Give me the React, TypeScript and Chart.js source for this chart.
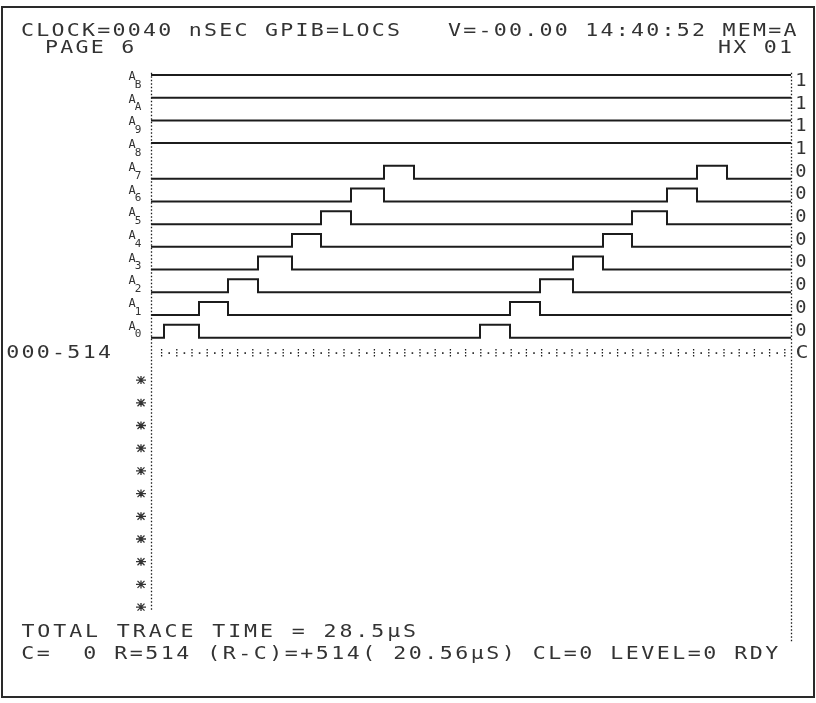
import React, { useEffect, useRef } from "react";
import { Chart, registerables } from "chart.js";

Chart.register(...registerables);

// ---- data ----
const channelNames = ["B", "A", "9", "8", "7", "6", "5", "4", "3", "2", "1", "0"];
const stateLabels = ["1", "1", "1", "1", "0", "0", "0", "0", "0", "0", "0", "0"];
const restLevels = [1, 1, 1, 1, 0, 0, 0, 0, 0, 0, 0, 0];
const pulseRises = [
  [], [], [], [],
  [23.3, 54.6],
  [20.0, 51.6],
  [17.0, 48.1],
  [14.1, 45.2],
  [10.7, 42.2],
  [7.7, 38.9],
  [4.8, 35.9],
  [1.3, 32.9],
];
const pulseFalls = [
  [], [], [], [],
  [26.3, 57.6],
  [23.3, 54.6],
  [20.0, 51.6],
  [17.0, 48.1],
  [14.1, 45.2],
  [10.7, 42.2],
  [7.7, 38.9],
  [4.8, 35.9],
];
const timeStart = 0;
const timeEnd = 64;
const cursorRow = 12.25;
const cursorLabel = "000-514";
const cursorMark = "C";
const emptyRows = [13.44, 14.44, 15.44, 16.44, 17.44, 18.44, 19.44, 20.44, 21.44, 22.44, 23.44];
const headerLine = "CLOCK=0040 nSEC GPIB=LOCS   V=-00.00 14:40:52 MEM=A";
const pageLabel = "PAGE 6";
const formatLabel = "HX 01";
const totalLine = "TOTAL TRACE TIME = 28.5µS";
const statusLine = "C=  0 R=514 (R-C)=+514( 20.56µS) CL=0 LEVEL=0 RDY";

const LOW_OFFSET = 0.57;
const INK = "#1c1c1c";
const TEXT_INK = "#333333";
const MONO = "'DejaVu Sans Mono', 'Liberation Mono', monospace";

function rowPoints(i: number) {
  const hiY = i;
  const loY = i + LOW_OFFSET;
  const rest = restLevels[i] ? hiY : loY;
  const pts: { x: number; y: number }[] = [{ x: timeStart, y: rest }];
  pulseRises[i].forEach((r, k) => {
    const f = pulseFalls[i][k];
    pts.push({ x: r, y: loY }, { x: r, y: hiY }, { x: f, y: hiY }, { x: f, y: loY });
  });
  pts.push({ x: timeEnd, y: rest });
  return pts;
}

function glyph(ctx: CanvasRenderingContext2D, ch: string, cx: number, y: number, sx: number) {
  ctx.save();
  ctx.translate(cx, y);
  ctx.scale(sx, 1);
  ctx.fillText(ch, 0, 0);
  ctx.restore();
}

function gridText(ctx: CanvasRenderingContext2D, s: string, x0: number, y: number, pitch: number) {
  for (let i = 0; i < s.length; i++) {
    glyph(ctx, s[i], x0 + i * pitch + pitch / 2, y, 1.2);
  }
}

const decorPlugin = {
  id: "decor",
  afterDatasetsDraw(chart: any) {
    const ctx: CanvasRenderingContext2D = chart.ctx;
    const xs = chart.scales.x;
    const ys = chart.scales.y;
    const xl = xs.getPixelForValue(timeStart);
    const xr = xs.getPixelForValue(timeEnd);
    ctx.save();
    // frame
    ctx.strokeStyle = "#2a2a2a";
    ctx.lineWidth = 2;
    ctx.strokeRect(2, 7, 812, 690);

    // dotted verticals
    ctx.strokeStyle = INK;
    ctx.lineWidth = 1.3;
    ctx.setLineDash([1.5, 2]);
    ctx.beginPath();
    ctx.moveTo(xl + 0.5, ys.getPixelForValue(-0.1));
    ctx.lineTo(xl + 0.5, ys.getPixelForValue(23.6));
    ctx.moveTo(xr + 0.5, ys.getPixelForValue(-0.1));
    ctx.lineTo(xr + 0.5, ys.getPixelForValue(25));
    ctx.stroke();

    // cursor row ticks
    const cy = ys.getPixelForValue(cursorRow);
    ctx.setLineDash([1.5, 1.5]);
    ctx.beginPath();
    for (let t = 1.06; t < timeEnd; t += 1.52) {
      const px = xs.getPixelForValue(t);
      ctx.moveTo(px, cy - 4);
      ctx.lineTo(px, cy + 4);
    }
    ctx.stroke();
    ctx.setLineDash([]);
    ctx.fillStyle = INK;
    for (let t = 1.06 + 0.76; t < timeEnd; t += 1.52) {
      const px = xs.getPixelForValue(t);
      ctx.fillRect(px - 0.8, cy - 0.8, 1.6, 1.6);
    }

    // asterisks for empty rows
    ctx.lineWidth = 1.3;
    ctx.strokeStyle = TEXT_INK;
    emptyRows.forEach((v) => {
      const py = ys.getPixelForValue(v);
      const px = xl - 10;
      ctx.beginPath();
      ctx.moveTo(px - 5, py);
      ctx.lineTo(px + 5, py);
      ctx.moveTo(px, py - 4);
      ctx.lineTo(px, py + 4);
      ctx.moveTo(px - 3.5, py - 3.5);
      ctx.lineTo(px + 3.5, py + 3.5);
      ctx.moveTo(px + 3.5, py - 3.5);
      ctx.lineTo(px - 3.5, py + 3.5);
      ctx.stroke();
    });

    // texts
    ctx.fillStyle = TEXT_INK;
    ctx.textAlign = "center";
    ctx.textBaseline = "middle";
    ctx.font = `18px ${MONO}`;
    gridText(ctx, headerLine, 20, 31, 15.25);
    gridText(ctx, pageLabel, 44, 48, 15.25);
    gridText(ctx, formatLabel, 717, 48, 15.25);
    gridText(ctx, cursorLabel, 5, cy, 15.3);
    gridText(ctx, totalLine, 20, 632, 15.9);
    gridText(ctx, statusLine, 20, 654, 15.5);
    glyph(ctx, cursorMark, xr + 11, cy, 1.2);

    // row labels
    channelNames.forEach((n, i) => {
      const lo = ys.getPixelForValue(i + LOW_OFFSET);
      const mid = ys.getPixelForValue(i + LOW_OFFSET / 2);
      ctx.font = `12px ${MONO}`;
      ctx.fillText("A", 132, lo - 11);
      ctx.font = `11px ${MONO}`;
      ctx.fillText(n, 138, lo - 3);
      ctx.font = `17px ${MONO}`;
      glyph(ctx, stateLabels[i], xr + 10, mid, 1.1);
    });
    ctx.restore();
  },
};

export default function App() {
  const ref = useRef<HTMLCanvasElement>(null);
  useEffect(() => {
    if (!ref.current) return;
    const datasets: any[] = channelNames.map((n, i) => ({
      label: "A" + n,
      data: rowPoints(i),
      borderColor: INK,
      borderWidth: 2,
      pointRadius: 0,
      tension: 0,
      fill: false,
      clip: false,
    }));
    const chart = new Chart(ref.current, {
      type: "line",
      data: { datasets },
      options: {
        responsive: false,
        animation: false,
        devicePixelRatio: 1,
        layout: { padding: { left: 151, right: 25, top: 63.65, bottom: 83.2 } },
        scales: {
          x: { type: "linear", min: timeStart, max: timeEnd, display: false },
          y: { type: "linear", min: -0.5, max: 24, reverse: true, display: false },
        },
        plugins: { legend: { display: false }, tooltip: { enabled: false } },
        elements: { point: { radius: 0 } },
      },
      plugins: [decorPlugin],
    });
    return () => chart.destroy();
  }, []);
  return (
    <div style={{ position: "absolute", left: 0, top: 0, width: 816, height: 703, background: "#fff" }}>
      <canvas ref={ref} width={816} height={703} style={{ display: "block" }} />
    </div>
  );
}
